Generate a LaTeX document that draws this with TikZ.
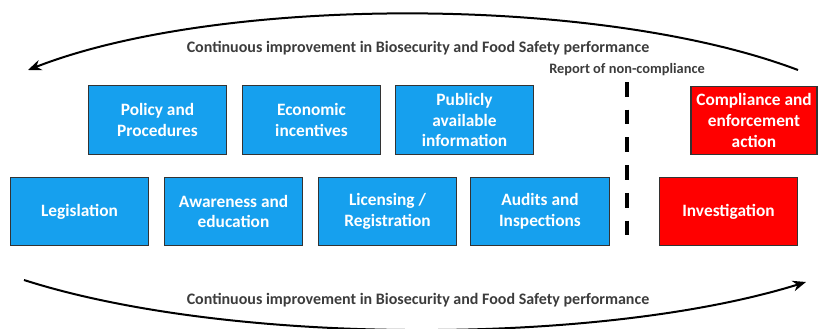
\documentclass[tikz,border=0pt]{standalone}
\usepackage{fontspec}
\setmainfont{Carlito}
\usetikzlibrary{arrows.meta}

\definecolor{measureblue}{RGB}{22,160,238}
\definecolor{actionred}{RGB}{255,0,0}
\definecolor{captiongrey}{RGB}{60,60,60}

\tikzset{
  measure/.style={draw=black!80, line width=0.9pt, fill=measureblue, text=white,
    font=\bfseries\fontsize{13}{15.5}\selectfont, align=center,
    minimum width=104pt, minimum height=51.5pt, inner sep=1pt},
  action/.style={measure, fill=actionred},
  cycle/.style={line width=1.5pt, -{Stealth[length=10pt,width=8pt]}},
  caption/.style={text=captiongrey, font=\bfseries\fontsize{12}{14}\selectfont}
}

\begin{document}
\begin{tikzpicture}[x=0.75pt,y=-0.75pt]
\useasboundingbox (0,0) rectangle (819,329);

% upper row
\node[measure] (policy)   at (157.5,120) {Policy and\\Procedures};
\node[measure] (economic) at (311.5,120) {Economic\\incentives};
\node[measure] (public)   at (464.5,120) {Publicly\\available\\information};
\node[action, minimum width=94.5pt] (enforce) at (754,120.5) {Compliance and\\enforcement\\action};

% lower row
\node[measure] (legislation) at (79.5,211.5)  {Legislation};
\node[measure] (awareness)   at (233.5,211.5) {Awareness and\\education};
\node[measure] (licensing)   at (387.5,211.5) {Licensing /\\Registration};
\node[measure] (audits)      at (540,211.5)   {Audits and\\Inspections};
\node[action]  (investigate) at (728.5,211.5) {Investigation};

% non-compliance divide
\coordinate (divtop) at (627,82);
\coordinate (divbot) at (627,235);
\draw[line width=2.3pt, dash pattern=on 11pt off 9.8pt] (divtop) -- (divbot);
\node[caption, font=\bfseries\fontsize{10.8}{12}\selectfont, anchor=south] (report) at (627,80) {Report of non-compliance};

% improvement loops
\coordinate (topstart) at (798,70);
\coordinate (topend)   at (28,70);
\draw[cycle] (topstart) .. controls (600,-5) and (220,-5) .. (topend);
\node[caption] (toplabel) at (418,48) {Continuous improvement in Biosecurity and Food Safety performance};

\coordinate (botstart) at (24,280);
\coordinate (botend)   at (806,282);
\draw[cycle] (botstart) .. controls (230,346) and (600,346) .. (botend);
\node[caption] (botlabel) at (418,300) {Continuous improvement in Biosecurity and Food Safety performance};
\end{tikzpicture}
\end{document}
